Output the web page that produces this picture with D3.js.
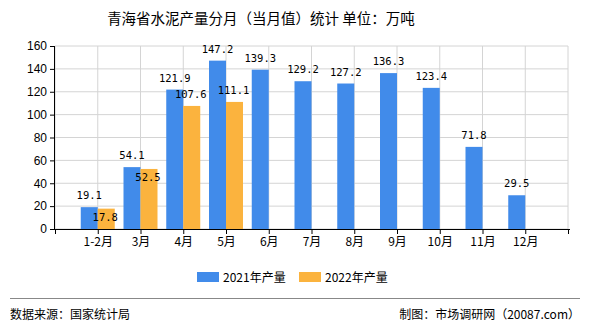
<!DOCTYPE html>
<html><head><meta charset="utf-8">
<script src="https://cdn.jsdelivr.net/npm/d3@7"></script>
<style>
body{margin:0;background:#fff;}
svg{font-family:"Noto Sans CJK SC","DejaVu Sans",sans-serif;}
</style></head>
<body><svg id="c" width="590" height="330"></svg>
<script>
const categories = ["1-2月","3月","4月","5月","6月","7月","8月","9月","10月","11月","12月"];
const series2021 = [19.1,54.1,121.9,147.2,139.3,129.2,127.2,136.3,123.4,71.8,29.5];
const series2022 = [17.8,52.5,107.6,111.1];
const yTicks = [0,20,40,60,80,100,120,140,160];
const seriesNames = ["2021年产量","2022年产量"];
const colors = ["#418bea","#fbb33e"];

const svg = d3.select("#c");
const L=55, R=568, T=46, B=229;
const y = d3.scaleLinear().domain([0,160]).range([B,T]);
const slots = ["", ...categories];
const x = d3.scalePoint().domain(slots.concat(["_end"])).range([L,R]);
const bw = 17;

const g = svg.append("g");
g.selectAll("line.h").data(yTicks).join("line")
  .attr("x1",L).attr("x2",R).attr("y1",d=>y(d)).attr("y2",d=>y(d))
  .attr("stroke","#d4d4d4");
g.selectAll("line.v").data(slots.concat(["_end"])).join("line")
  .attr("x1",d=>x(d)).attr("x2",d=>x(d)).attr("y1",T).attr("y2",B)
  .attr("stroke","#d4d4d4");

svg.append("g").selectAll("rect").data(series2021).join("rect")
  .attr("x",(d,i)=>x(categories[i])-bw).attr("width",bw)
  .attr("y",d=>y(d)).attr("height",d=>B-y(d)).attr("fill",colors[0]);
svg.append("g").selectAll("rect").data(series2022).join("rect")
  .attr("x",(d,i)=>x(categories[i])).attr("width",bw)
  .attr("y",d=>y(d)).attr("height",d=>B-y(d)).attr("fill",colors[1]);

const yAxis = d3.axisLeft(y).tickValues(yTicks).tickSize(5).tickPadding(3);
const ya = svg.append("g").attr("transform",`translate(${L},0)`).call(yAxis);
ya.select(".domain").attr("stroke","#000").attr("d",`M-0.5,${T}V${B}`);
ya.selectAll("text").style("font-size","12px").style("font-family","Liberation Sans, Arial, sans-serif").attr("fill","#000");

const xAxis = d3.axisBottom(x).tickValues(slots.concat(["_end"])).tickSize(5).tickPadding(3).tickFormat(d=>d==="_end"?"":d);
const xa = svg.append("g").attr("transform",`translate(0,${B})`).call(xAxis);
xa.select(".domain").attr("stroke","#000").attr("d",`M${L},0.5H${R+2}`);
xa.selectAll("text").style("font-size","12px").style("font-family","'Noto Sans CJK SC', sans-serif").attr("fill","#000");

const lf = "'DejaVu Sans Mono', 'Liberation Mono', monospace";
svg.append("g").selectAll("text").data(series2021).join("text")
  .attr("x",(d,i)=>x(categories[i])-bw/2).attr("y",d=>y(d)-8)
  .attr("text-anchor","middle").style("font-size","10.5px").style("font-family",lf)
  .text(d=>d.toFixed(1));
svg.append("g").selectAll("text").data(series2022).join("text")
  .attr("x",(d,i)=>x(categories[i])+bw/2-1).attr("y",(d,i)=> (series2021[i]-d<5) ? y(d)+12 : y(d)-8)
  .attr("text-anchor","middle").style("font-size","10.5px").style("font-family",lf)
  .text(d=>d.toFixed(1));

svg.append("text").attr("x",261).attr("y",24).attr("text-anchor","middle")
  .style("font-size","14.5px").attr("fill","#000").text("青海省水泥产量分月（当月值）统计 单位：万吨");

const lg = svg.append("g");
const lx = [197,299];
seriesNames.forEach((n,i)=>{
  lg.append("rect").attr("x",lx[i]).attr("y",272).attr("width",22).attr("height",10).attr("fill",colors[i]);
  lg.append("text").attr("x",lx[i]+26).attr("y",281.5).style("font-size","12px").text(n);
});

svg.append("line").attr("x1",10).attr("x2",580).attr("y1",298.5).attr("y2",298.5).attr("stroke","#888");
svg.append("text").attr("x",10).attr("y",319).style("font-size","12px").text("数据来源：国家统计局");
svg.append("text").attr("x",580).attr("y",319).style("font-size","12px").attr("text-anchor","end").text("制图：市场调研网（20087.com）");
</script></body></html>
